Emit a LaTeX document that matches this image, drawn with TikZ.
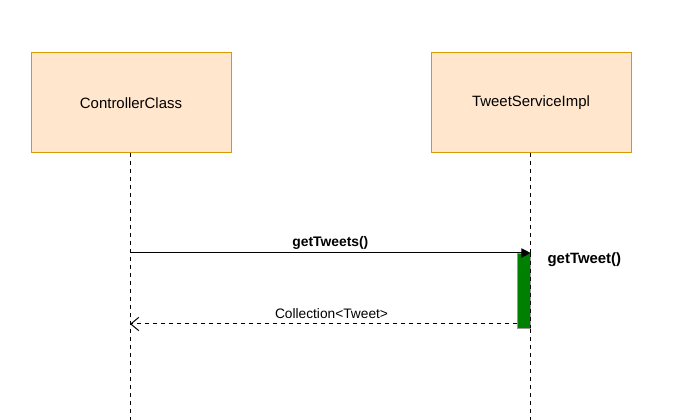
\documentclass[tikz,border=0pt]{standalone}
\usepackage{fontspec}
\setmainfont{Liberation Sans}
\usetikzlibrary{arrows.meta}
\definecolor{boxfill}{HTML}{FFE6CC}
\definecolor{boxline}{HTML}{D79B00}
\definecolor{actfill}{HTML}{008000}
\begin{document}
\begin{tikzpicture}[x=0.75pt,y=-0.75pt,
  lifebox/.style={draw=boxline,fill=boxfill,line width=0.75pt,minimum width=150pt,minimum height=75pt,inner sep=0pt,font=\fontsize{11.2}{13}\selectfont},
  lifeline/.style={dashed,dash pattern=on 3pt off 3pt,line width=0.75pt},
  msg/.style={line width=0.75pt,-{Triangle[length=7pt,width=7pt]}},
  ret/.style={line width=0.75pt,dash pattern=on 3pt off 3pt,-{Straight Barb[length=6pt,width=10pt]}},
  lbl/.style={font=\fontsize{10.3}{12}\selectfont,inner sep=1pt}]
\useasboundingbox (0,0) rectangle (682,420);
\node[lifebox] (ctrl) at (131,103) {ControllerClass};
\node[lifebox] (svc) at (531,103) {TweetServiceImpl};
\coordinate (ctrlend) at (130,420);
\coordinate (svcend) at (530,420);
\draw[lifeline] (130,153) -- (ctrlend);
\draw[lifeline] (530,153) -- (svcend);
\node[draw=black!40,fill=actfill,line width=0.5pt,minimum width=9.75pt,minimum height=56pt,inner sep=0pt,anchor=north west] (act) at (517,253) {};
\draw[lifeline] (530,253) -- (530,328);
\coordinate (c1) at (130,253);
\coordinate (c2) at (130,324);
\draw[msg] (c1) -- (act.north east) node[lbl,midway,above=1pt,font=\fontsize{10.4}{12}\selectfont\bfseries] (m1) {getTweets()};
\draw[ret] (act.south west |- c2) -- (c2) node[lbl,midway,above=2.5pt,xshift=6pt] (m2) {Collection<Tweet>};
\node[lbl,font=\fontsize{11.2}{13}\selectfont\bfseries,anchor=west] (gt) at (546,259.5) {getTweet()};
\end{tikzpicture}
\end{document}
